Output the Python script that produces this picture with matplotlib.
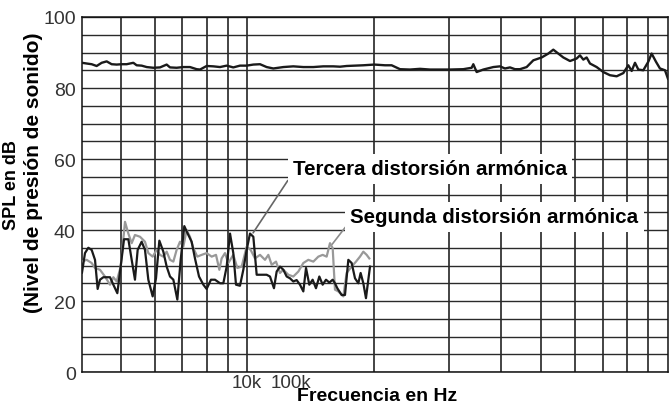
import matplotlib
matplotlib.use("Agg")
import matplotlib.pyplot as plt

plt.rcParams['font.family'] = ['Liberation Sans', 'DejaVu Sans']

# x runs 0..100 across the chart width (relative position along the frequency axis)
grid_x = [6.66, 12.46, 17.06, 21.33, 24.91, 28.16, 49.83, 62.63, 71.50,
          78.33, 84.13, 88.91, 93.00, 96.59]
freq_labels = ['10k', '100k']
freq_label_x = [28.1, 35.6]
db_ticks = [0, 20, 40, 60, 80, 100]

# SPL response
main_x = [0, 0.8, 1.65, 2.5, 3.36, 4.21, 5.06, 5.92, 6.77, 7.62, 8.76, 9.33,
          10.18, 11.04, 12.17, 13.31, 14.45, 15.02, 16.15, 17.29, 18.43, 19.57,
          20.14, 21.27, 22.41, 23.55, 24.69, 25.82, 26.96, 28.10, 29.24, 30.38,
          31.51, 32.65, 34.36, 36.06, 37.77, 39.48, 41.18, 42.89, 44.03,
          45.16, 48.01, 49.89, 51.71, 52.84, 54.27, 55.97, 57.68, 59.38, 61.09,
          62.8, 65.07, 66.5, 66.78, 67.35, 68.49, 70.19, 71.33, 72.18, 73.04,
          73.89, 74.74, 75.88, 77.02, 78.44, 79.58, 80.43, 81.28, 82.14, 83.28,
          84.41, 84.98, 85.55, 86.12, 86.69, 87.83, 88.96, 90.1, 91.24, 92.38,
          93.23, 93.8, 94.37, 94.94, 95.79, 96.64, 97.21, 97.95, 98.63, 99.49, 100]
main_db = [87.1, 86.9, 86.7, 86.2, 87.1, 87.5, 86.7, 86.6, 86.7, 86.7, 87.1, 86.4,
           86.3, 85.9, 85.7, 85.8, 86.6, 85.8, 85.7, 85.9, 85.9, 85.3,
           85.2, 86.2, 86.1, 85.9, 86.3, 85.8, 86.3, 86.3, 86.6, 86.7,
           85.9, 85.5, 85.9, 86.1, 85.9, 85.9, 86.1, 86.1, 86.0,
           86.2, 86.4, 86.6, 86.4, 86.4, 85.3, 85.2, 85.4, 85.2, 85.2,
           85.2, 85.3, 85.7, 86.7, 84.5, 85.2, 85.9, 86.1, 85.5, 85.8,
           85.3, 85.3, 85.9, 87.8, 88.6, 89.7, 90.8, 89.7, 88.6, 87.6,
           88.3, 89.2, 88.0, 88.6, 86.9, 85.9, 84.5, 83.6, 83.3, 84.2,
           86.4, 84.8, 87.1, 85.2, 85.0, 87.4, 89.7, 87.4, 85.5, 85.0, 82.6]

# third harmonic distortion
third_x = [0, 0.51, 1.08, 1.65, 2.22, 2.67, 3.07, 3.64, 4.21, 4.78, 5.35, 6.03,
           6.60, 7.17, 7.91, 8.48, 9.04, 9.50, 10.18, 10.75, 11.32, 12.06, 12.63,
           13.20, 13.88, 14.45, 15.02, 15.59, 16.27, 16.84, 17.46, 18.03, 18.71,
           19.28, 19.97, 20.71, 21.27, 22.01, 22.70, 23.55, 24.12, 24.69, 25.26,
           25.82, 26.28, 26.96, 27.53, 28.10, 28.67, 29.24, 29.81, 30.66, 31.51,
           32.08, 32.76, 33.22, 33.79, 34.36, 34.93, 35.49, 36.06, 36.63, 37.20,
           37.77, 38.23, 38.79, 39.36, 39.93, 40.50, 41.07, 41.64, 42.21, 42.78,
           43.17, 43.57, 44.31, 44.88, 45.45, 46.02, 46.59, 47.16, 47.55, 48.01,
           48.46, 49.15]
third_db = [28.0, 33.5, 35.0, 34.4, 31.6, 23.4, 26.0, 26.7, 26.7, 26.7, 24.6, 22.2,
            29.7, 37.4, 37.4, 31.6, 26.0, 34.4, 36.7, 34.4, 26.0, 21.3, 26.4,
            37.0, 33.9, 29.7, 26.9, 26.0, 20.4, 31.6, 41.1, 39.0, 36.7,
            32.0, 26.9, 24.6, 23.4, 26.0, 26.0, 25.0, 25.0, 29.7, 39.0,
            33.5, 24.6, 24.3, 28.8, 34.4, 39.0, 38.1, 27.4, 27.4, 27.4,
            26.9, 23.6, 28.3, 29.7, 28.8, 26.9, 26.4, 25.5, 25.9, 24.6,
            22.7, 29.3, 24.6, 26.0, 23.6, 26.9, 24.6, 26.0, 25.2, 26.0,
            25.0, 23.6, 21.7, 21.7, 31.6, 30.7, 26.4, 25.0, 27.9, 25.0,
            20.8, 29.7]

# second harmonic distortion
second_x = [0, 0.8, 1.65, 2.22, 3.07, 3.92, 4.78, 5.35, 5.92, 6.6, 7.34, 7.91,
            8.48, 9.04, 9.9, 10.75, 11.32, 12.06, 12.74, 13.31, 13.88, 14.45,
            15.02, 15.59, 16.15, 16.72, 17.29, 17.86, 18.43, 19.0, 19.68, 20.42,
            21.27, 22.13, 22.87, 23.44, 23.83, 24.4, 24.97, 25.82, 26.51, 27.25,
            28.1, 28.78, 29.52, 30.38, 31.23, 31.8, 32.37, 33.11, 33.79, 34.36,
            35.21, 36.06, 36.92, 37.77, 38.62, 39.48, 40.33, 41.07, 41.75, 42.32,
            42.78, 43.17, 43.74, 44.6, 45.16, 46.02, 46.76, 47.44, 48.01, 48.58,
            49.03]
second_db = [31.1, 31.6, 30.7, 29.3, 28.8, 26.9, 24.6, 26.7, 25.5, 29.7, 42.3, 39.0,
             36.3, 38.6, 38.1, 36.7, 33.5, 32.5, 34.4, 33.0, 32.5, 33.9,
             31.6, 31.1, 34.4, 36.7, 35.3, 40.0, 38.1, 34.9, 32.5, 33.0,
             33.5, 32.5, 33.0, 28.8, 32.0, 33.5, 30.7, 33.0, 29.3, 29.7,
             35.3, 34.4, 32.0, 33.0, 31.6, 33.0, 30.2, 31.1, 27.9, 28.8,
             27.4, 26.9, 28.3, 30.7, 31.6, 31.1, 32.5, 33.0, 32.5, 36.3,
             34.9, 23.2, 22.7, 21.3, 27.9, 29.7, 31.1, 32.5, 33.9, 33.0,
             32.0]

fig = plt.figure(figsize=(6.71, 4.10), dpi=100)
ax = fig.add_axes([0.1222, 0.0902, 0.8733, 0.8659])

ax.set_xlim(0, 100)
ax.set_ylim(0, 100)

# grid: horizontal every 5 dB, vertical at the frequency divisions
ax.set_yticks(db_ticks)
ax.set_yticks(range(0, 101, 5), minor=True)
ax.set_xticks(freq_label_x, freq_labels)
ax.set_xticks(grid_x, minor=True)
ax.yaxis.grid(True, which='both', color='#2a2a2a', linewidth=1.0)
ax.xaxis.grid(True, which='minor', color='#111111', linewidth=1.1)
ax.xaxis.grid(False, which='major')
ax.tick_params(which='both', length=0)
ax.tick_params(axis='y', pad=4.5, labelsize=14, labelcolor='#333333')
ax.tick_params(axis='x', pad=1.5, labelsize=13.5, labelcolor='#333333')
for s in ax.spines.values():
    s.set_color('#111111')
    s.set_linewidth(1.1)
ax.set_axisbelow(True)

ax.plot(second_x, second_db, color='#999999', linewidth=1.6, zorder=3)
ax.plot(third_x, third_db, color='#1a1a1a', linewidth=1.6, zorder=4)
ax.plot(main_x, main_db, color='#1a1a1a', linewidth=1.7, zorder=4)

box = dict(boxstyle='square,pad=0.25', fc='white', ec='none')
ax.annotate('Tercera distorsión armónica', xy=(29.2, 39.2), xytext=(36.0, 57.2),
            fontsize=14.8, fontweight='bold', va='center', ha='left', bbox=box,
            arrowprops=dict(arrowstyle='-', color='#666666', lw=1.2,
                            shrinkA=0, shrinkB=0, relpos=(0, 0.3)), zorder=5)
ax.annotate('Segunda distorsión armónica', xy=(42.7, 36.0), xytext=(45.8, 43.7),
            fontsize=14.8, fontweight='bold', va='center', ha='left', bbox=box,
            arrowprops=dict(arrowstyle='-', color='#8c8c8c', lw=1.2,
                            shrinkA=0, shrinkB=0, relpos=(0, 0.3)), zorder=5)

ax.set_xlabel('Frecuencia en Hz', fontsize=14, fontweight='bold')
ax.xaxis.set_label_coords(0.503, -0.042)

# y label as two rotated lines
fig.text(11.5 / 671, 1 - 185 / 410, 'SPL en dB', rotation=90, fontsize=13,
         fontweight='bold', ha='center', va='center')
fig.text(34 / 671, 1 - 173 / 410, '(Nivel de presión de sonido)', rotation=90,
         fontsize=15, fontweight='bold', ha='center', va='center')

fig.savefig('out.png', dpi=100)
